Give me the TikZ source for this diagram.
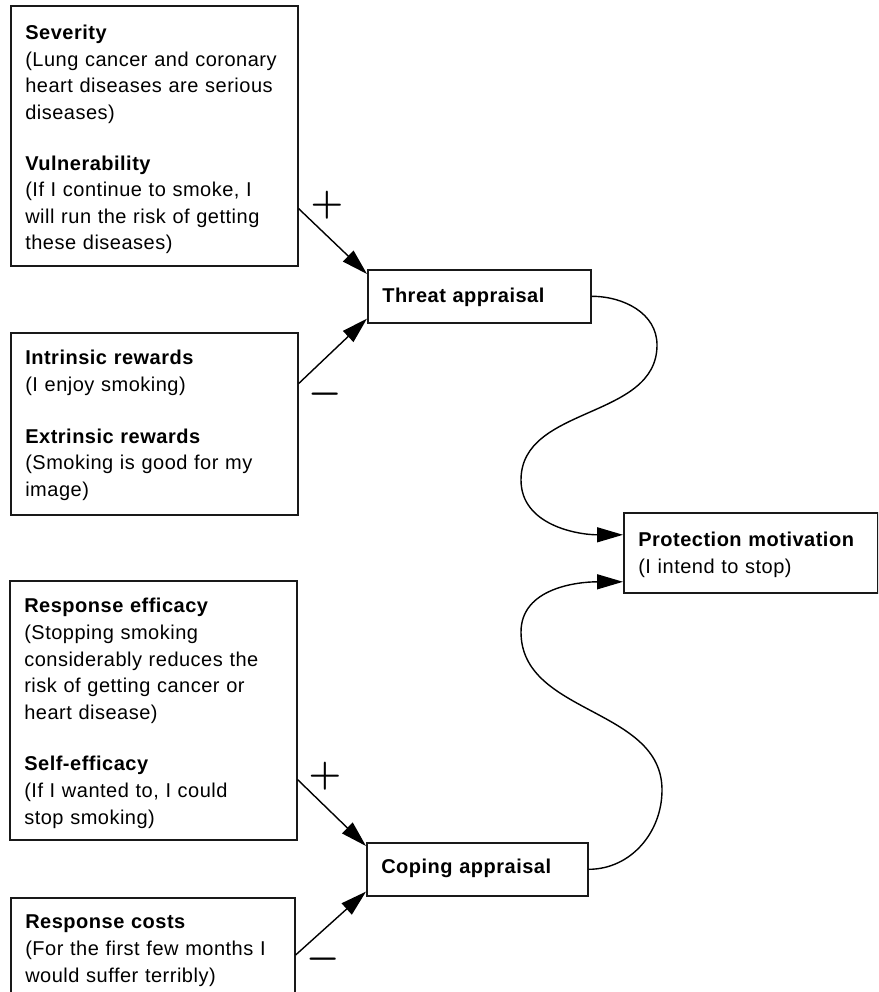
\documentclass[tikz,border=0pt]{standalone}
\usepackage{fontspec}
\setmainfont{Liberation Sans}[LetterSpace=2.5]
\usetikzlibrary{arrows.meta,calc}

\tikzset{
  box/.style={draw=black!90, fill=white, line width=1.6pt, anchor=north west,
    inner xsep=14.5pt, inner ysep=0pt, align=left,
    font=\fontsize{20}{26.6}\selectfont},
  link/.style={line width=1.4pt, -{Triangle[length=26pt,width=15pt]}},
  sign/.style={font=\boldmath\fontsize{24.88}{25}\selectfont, inner sep=0pt, scale=1.5},
}

\begin{document}
\begin{tikzpicture}[x=1pt,y=-1pt]
\useasboundingbox (0,0) rectangle (878,992);
\fill[white] (0,0) rectangle (878,992);
\clip (0,0) rectangle (878,992);

% threat side
\node[box, text width=258pt, text height=34pt, text depth=226pt] (sev) at (10,5)
  {\textbf{Severity}\\
   (Lung cancer and coronary\\
   heart diseases are serious\\
   diseases)\\[24pt]
   \textbf{Vulnerability}\\
   (If I continue to smoke, I\\
   will run the risk of getting\\
   these diseases)};

\node[box, text width=258pt, text height=32pt, text depth=150pt] (rew) at (10,332)
  {\textbf{Intrinsic rewards}\\
   (I enjoy smoking)\\[25pt]
   \textbf{Extrinsic rewards}\\
   (Smoking is good for my\\
   image)};

\node[box, text width=194pt, text height=33pt, text depth=20pt] (thr) at (367,269)
  {\textbf{Threat appraisal}};

% outcome
\node[box, text width=225pt, text height=34pt, text depth=46pt] (prot) at (623,512)
  {\textbf{Protection motivation}\\
   (I intend to stop)};

% coping side
\node[box, text width=258pt, text height=32pt, text depth=227pt] (eff) at (9,580)
  {\textbf{Response efficacy}\\
   (Stopping smoking\\
   considerably reduces the\\
   risk of getting cancer or\\
   heart disease)\\[25pt]
   \textbf{Self-efficacy}\\
   (If I wanted to, I could\\
   stop smoking)};

\node[box, text width=255pt, text height=31pt, text depth=82pt] (cost) at (10,897)
  {\textbf{Response costs}\\
   (For the first few months I\\
   would suffer terribly)};

\node[box, text width=192pt, text height=31pt, text depth=22pt] (cop) at (366,842)
  {\textbf{Coping appraisal}};

% inputs to the appraisals
\draw[link] ($(sev.south east)+(0,-58)$) -- ([yshift=-5pt]thr.north west);
\draw[link] ($(rew.south east)+(0,-132)$) -- ([yshift=5pt]thr.south west);
\draw[link] ($(eff.south east)+(0,-61)$) -- ([yshift=-4pt]cop.north west);
\draw[link] ($(cost.north east)+(0,58)$) -- ([yshift=5pt]cop.south west);

\node[sign] (pa) at (327,205) {$+$};
\node[sign] (ma) at (325,394) {$-$};
\node[sign] (pb) at (325,776) {$+$};
\node[sign] (mb) at (323,959) {$-$};

% appraisals to protection motivation
\draw[link] (thr.east) to[out=0,in=90] (657,345) to[out=-90,in=90] (521,480)
  to[out=-90,in=180] ([yshift=18pt]prot.west);
\draw[link] (cop.east) to[out=0,in=-90] (662,790) to[out=90,in=-90] (521,632)
  to[out=90,in=180] ([yshift=-29pt]prot.west);
\end{tikzpicture}
\end{document}
